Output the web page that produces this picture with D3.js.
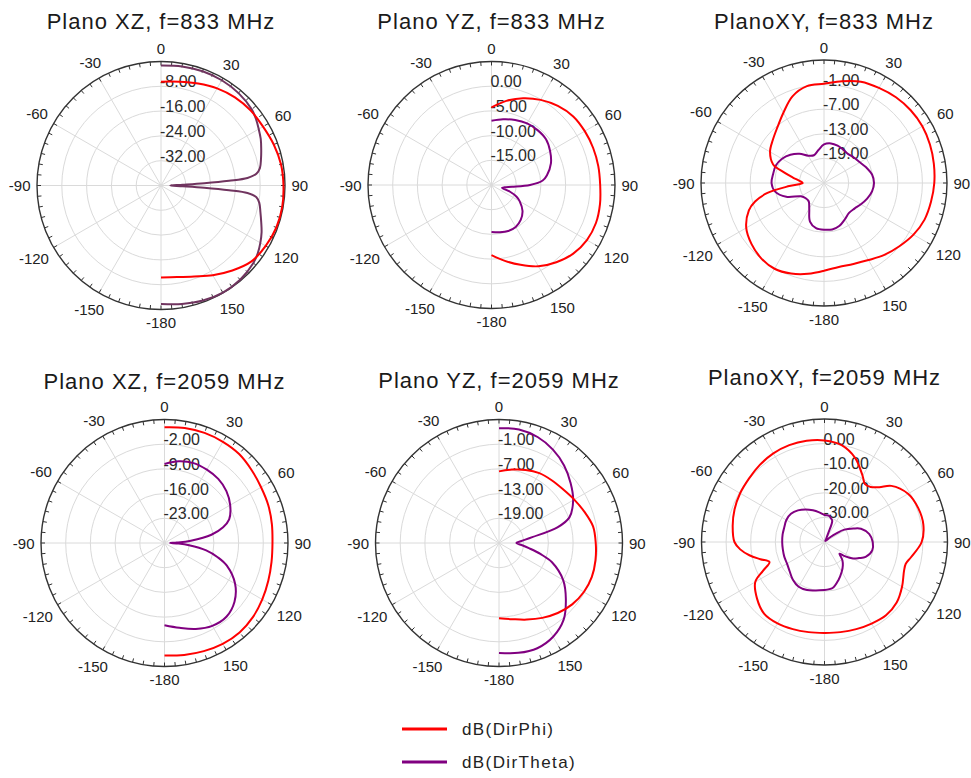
<!DOCTYPE html>
<html>
<head>
<meta charset="utf-8">
<script src="https://cdn.jsdelivr.net/npm/d3@7"></script>
<style>
  body { margin: 0; background: #fff; }
  svg { font-family: "Liberation Sans", Arial, sans-serif; }
</style>
</head>
<body>
<div id="chart"></div>
<script>
// ---- data ----
var titles = ["Plano XZ, f=833 MHz", "Plano YZ, f=833 MHz", "PlanoXY, f=833 MHz",
              "Plano XZ, f=2059 MHz", "Plano YZ, f=2059 MHz", "PlanoXY, f=2059 MHz"];
var dbMin = [-40, -20, -25, -30, -25, -40];
var dbMax = [0, 5, 5, 5, 5, 10];
var ringLabels = [[-8, -16, -24, -32], [0, -5, -10, -15], [-1, -7, -13, -19],
                  [-2, -9, -16, -23], [-1, -7, -13, -19], [0, -10, -20, -30]];
var angleLabels = [0, 30, 60, 90, 120, 150, 180, -150, -120, -90, -60, -30];
var legendNames = ["dB(DirPhi)", "dB(DirTheta)"];

var halfAng = [0, 10, 20, 30, 40, 50, 60, 70, 80, 90, 100, 110, 120, 130, 140, 150, 160, 170, 180];
var fullAng = [-180, -170, -160, -150, -140, -130, -120, -110, -100, -90, -80, -70, -60, -50, -40, -30, -20, -10,
               0, 10, 20, 30, 40, 50, 60, 70, 80, 90, 100, 110, 120, 130, 140, 150, 160, 170, 180];

// Plano XZ 833
var xz833Phi = [-6.5, -6.0, -5.0, -3.8, -2.9, -2.3, -2.0, -1.3, -0.7, -0.5, -0.3, -0.4, -1.0, -1.9, -4.2, -6.6, -8.8, -10.0, -10.3];
var xz833ThetaAng = [0, 10, 20, 30, 40, 50, 55, 60, 65, 70, 75, 80, 83, 85, 86, 87, 88, 90, 92, 93, 94, 95, 97,
                     100, 105, 110, 115, 120, 125, 130, 140, 150, 160, 170, 180];
var xz833Theta = [-1.3, -1.0, -0.8, -0.8, -1.1, -1.8, -2.6, -3.6, -4.5, -5.6, -6.6, -7.6, -9, -12, -18, -26, -33, -37,
                  -33, -26, -18, -12, -9, -7.8, -6.8, -5.6, -4.2, -3.0, -1.9, -1.1, -0.3, -0.1, -0.5, -1.2, -1.8];

// Plano YZ 833
var yz833Phi = [-4.3, -2.7, -1.3, -0.1, 0.9, 1.6, 1.8, 1.9, 1.95, 2.0, 2.3, 2.5, 2.3, 1.6, 0.4, -1.0, -2.8, -4.4, -5.8];
var yz833ThetaAng = [0, 10, 20, 30, 40, 50, 60, 70, 80, 85, 90, 95, 100, 105, 110, 115, 120, 130, 140, 150, 160, 170, 180];
var yz833Theta = [-7.0, -6.5, -6.0, -5.6, -5.5, -5.6, -6.3, -7.2, -8.6, -9.6, -12.2, -15.8, -17.3, -17.8, -16.0,
                  -14.4, -13.4, -11.8, -10.8, -10.2, -10.1, -10.3, -10.5];

// Plano XY 833
var xy833PhiAng = [-180, -170, -160, -150, -140, -130, -120, -110, -105, -100, -95, -90, -85, -80, -75, -70,
                   -60, -50, -40, -30, -20, -10, 0, 10, 20, 30, 40, 50, 60, 70, 80, 90,
                   100, 110, 120, 130, 140, 150, 160, 170, 180];
var xy833Phi = [-3.6, -2.5, -1.5, -0.85, -1.1, -1.9, -3.1, -5.5, -7.6, -11, -16.5, -19.8, -19, -17.3, -14.8, -11.8,
                -9.8, -8.7, -7.3, -5.2, -2.5, -1.0, -0.8, 0.2, 1.3, 1.8, 2.3, 2.6, 2.7, 2.5, 2.2, 1.9,
                1.5, 1.1, 0.2, -1.0, -2.1, -3.3, -4.0, -4.2, -3.6];
var xy833Theta = [-13.6, -13.8, -15.0, -17.8, -19.2, -19.2, -18.5, -15.2, -12.9,
                  -12.2, -12.4, -12.5, -13.2, -14.3, -15.7, -17.3, -17.8, -16.9, -15.6,
                  -15.2, -15.3, -15.6, -15.8, -15.4, -14.9, -14, -13.1, -12.8,
                  -13.1, -13.8, -14.6, -15.3, -15.5, -14.8, -13.9, -13.5, -13.6];

// Plano XZ 2059
var xz2059Phi = [2.8, 3.1, 3.2, 3.1, 2.9, 2.2, 1.6, 1.3, 0.9, 0.6, 0.8, 1.3, 2.0, 2.7, 3.1, 3.0, 2.6, 2.2, 1.9];
var xz2059ThetaAng = [0, 10, 20, 30, 40, 50, 60, 70, 75, 80, 85, 88, 90, 92, 95, 100, 105, 110, 120, 130, 140, 150, 160, 170, 180];
var xz2059Theta = [-7.6, -6.5, -5.9, -6.0, -6.3, -7.1, -8.5, -10.5, -12.8, -16.5, -22.5, -26.5, -28.4, -26, -23,
                   -18, -14.4, -11.2, -6.9, -4.1, -2.7, -2.9, -4.1, -5.6, -6.7];

// Plano YZ 2059
var yz2059Phi = [-7.6, -6.9, -6.1, -5.4, -5.1, -4.7, -3.9, -2.9, -1.8, -1.5, -1.2, -1.0, -1.2, -1.8, -2.8, -4.0, -5.2, -6.2, -6.7];
var yz2059ThetaAng = [0, 10, 20, 30, 40, 50, 60, 70, 75, 80, 85, 90, 95, 100, 105, 110, 120, 130, 140, 150, 160, 170, 180];
var yz2059Theta = [2.9, 3.0, 2.4, 1.2, -0.4, -2.3, -4.2, -6.8, -10.3, -16.8, -19.5, -20.8, -19.5, -17.5, -14.5,
                   -11.3, -7.0, -3.8, -0.6, 1.3, 2.2, 2.1, 1.7];

// Plano XY 2059
var xy2059PhiAng = [-180, -170, -160, -150, -140, -130, -120, -115, -110, -105, -100, -95, -90,
                    -80, -70, -60, -50, -40, -30, -20, -10, 0, 10, 20, 30, 35, 40, 45, 50,
                    60, 70, 80, 90, 100, 105, 110, 120, 130, 140, 150, 160, 170, 180];
var xy2059Phi = [-3.0, -2.8, -2.3, -1.8, -1.9, -4.2, -7.5, -12.5, -16.2, -13, -9, -5.6, -3.4,
                 -2.1, -1.1, -0.4, 0.1, 0.9, 1.6, 1.9, 1.8, 1.3, 0.0, -3.6, -9, -11.3, -10.8, -8.5, -4.5,
                 -0.8, 0.5, 0.8, -0.5, -4.3, -5.8, -5.6, -3.6, -1.7, -1.1, -1.7, -2.3, -2.8, -3.0];
var xy2059ThetaAng = [-180, -170, -160, -150, -140, -130, -120, -110, -100, -90, -80, -70, -60, -50, -40, -30, -20, -10, 0,
                      10, 15, 20, 23, 30, 40, 50, 54, 58, 65, 70, 80, 90, 100, 110,
                      115, 120, 125, 128, 132, 136, 142, 150, 160, 170, 180];
var xy2059Theta = [-20.5, -20, -19.2, -19, -20, -21.5, -22.4, -22.6, -22.8, -22.8, -22.7, -22.6, -22.1, -22.2, -23.2, -24.7, -26.3, -27.8, -29,
                   -29.2, -30, -30.8, -36, -39, -39.5, -37, -34, -30.5, -27, -24.2, -21.5, -20.4, -20.3, -22.2,
                   -24.5, -26.6, -30, -32.3, -31, -29.5, -27.9, -26, -23.5, -21, -20.5];

var phiSeries = [[halfAng, xz833Phi], [halfAng, yz833Phi], [xy833PhiAng, xy833Phi],
                 [halfAng, xz2059Phi], [halfAng, yz2059Phi], [xy2059PhiAng, xy2059Phi]];
var thetaSeries = [[xz833ThetaAng, xz833Theta], [yz833ThetaAng, yz833Theta], [fullAng, xy833Theta],
                   [xz2059ThetaAng, xz2059Theta], [yz2059ThetaAng, yz2059Theta], [xy2059ThetaAng, xy2059Theta]];

// ---- layout ----
var width = 971, height = 778;
var centers = [[161, 185.5], [491.5, 185], [824, 183], [164.5, 543], [499, 543], [824.5, 542]];
var radii = [124, 123.5, 123, 123.5, 123.5, 123];
var titleY = [29, 28.5, 28.5, 389, 388, 385];
var red = "#ff0000", purple = "#800080";
var thetaColors = ["#70345f", purple, purple, purple, purple, purple];

var svg = d3.select("#chart").append("svg")
  .attr("width", width)
  .attr("height", height);

function drawPolar(i) {
  var cx = centers[i][0], cy = centers[i][1], R = radii[i];
  var r = d3.scaleLinear().domain([dbMin[i], dbMax[i]]).range([0, R]).clamp(true);
  var g = svg.append("g").attr("transform", "translate(" + cx + "," + cy + ")");

  // grid rings
  g.selectAll(".ring").data(ringLabels[i]).enter()
    .append("circle")
    .attr("r", d => r(d))
    .attr("fill", "none")
    .attr("stroke", "#dadada")
    .attr("stroke-width", 1);

  // spokes
  g.selectAll(".spoke").data(d3.range(0, 360, 30)).enter()
    .append("line")
    .attr("x1", 0).attr("y1", 0)
    .attr("x2", d => R * Math.sin(d * Math.PI / 180))
    .attr("y2", d => -R * Math.cos(d * Math.PI / 180))
    .attr("stroke", "#dadada")
    .attr("stroke-width", 1);

  // outer ring + ticks
  g.append("circle").attr("r", R).attr("fill", "none")
    .attr("stroke", "#333").attr("stroke-width", 1.4);
  g.selectAll(".tick").data(d3.range(0, 360, 5)).enter()
    .append("line")
    .attr("x1", d => R * Math.sin(d * Math.PI / 180))
    .attr("y1", d => -R * Math.cos(d * Math.PI / 180))
    .attr("x2", d => (R - 4) * Math.sin(d * Math.PI / 180))
    .attr("y2", d => -(R - 4) * Math.cos(d * Math.PI / 180))
    .attr("stroke", "#333")
    .attr("stroke-width", 1);

  // angle labels
  g.selectAll(".alabel").data(angleLabels).enter()
    .append("text")
    .text(d => d === 180 ? "-180" : d)
    .attr("text-anchor", "middle")
    .attr("dominant-baseline", "central")
    .attr("font-size", 15)
    .attr("fill", "#222")
    .each(function (d) {
      var a = d * Math.PI / 180;
      var w = this.getComputedTextLength();
      var rr = R + 6.5 + (w / 2) * Math.abs(Math.sin(a)) + 6.5 * Math.abs(Math.cos(a));
      d3.select(this).attr("x", rr * Math.sin(a)).attr("y", -rr * Math.cos(a));
    });

  // ring value labels (curves are drawn over them)
  g.selectAll(".vlabel").data(ringLabels[i]).enter()
    .append("text")
    .attr("x", -1)
    .attr("y", d => -r(d) + 1)
    .attr("font-size", 16)
    .attr("fill", "#2a2a2a")
    .text(d => d.toFixed(2));

  // curves
  var line = d3.lineRadial()
    .angle(d => d[0] * Math.PI / 180)
    .radius(d => r(d[1]))
    .curve(d3.curveCatmullRom.alpha(0.5));

  var th = thetaSeries[i], ph = phiSeries[i];
  g.append("path")
    .attr("d", line(d3.zip(th[0], th[1])))
    .attr("fill", "none")
    .attr("stroke", thetaColors[i])
    .attr("stroke-width", 2);
  g.append("path")
    .attr("d", line(d3.zip(ph[0], ph[1])))
    .attr("fill", "none")
    .attr("stroke", red)
    .attr("stroke-width", 2);

  // title
  svg.append("text")
    .attr("x", cx)
    .attr("y", titleY[i])
    .attr("text-anchor", "middle")
    .attr("font-size", 22)
    .attr("letter-spacing", 1)
    .attr("fill", "#1a1a1a")
    .text(titles[i]);
}

for (var i = 0; i < 6; i++) drawPolar(i);

// legend
var legend = svg.append("g");
[red, purple].forEach(function (c, k) {
  var y = 729 + k * 33;
  legend.append("line")
    .attr("x1", 402).attr("x2", 447)
    .attr("y1", y).attr("y2", y)
    .attr("stroke", c).attr("stroke-width", 3);
  legend.append("text")
    .attr("x", 462).attr("y", y)
    .attr("dominant-baseline", "central")
    .attr("font-size", 17)
    .attr("letter-spacing", 1.4)
    .attr("fill", "#222")
    .text(legendNames[k]);
});
</script>
</body>
</html>
